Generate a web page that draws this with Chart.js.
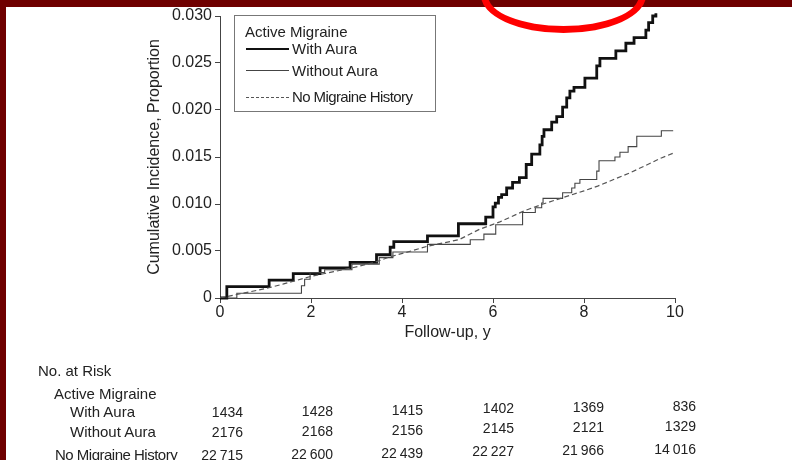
<!DOCTYPE html>
<html>
<head>
<meta charset="utf-8">
<script src="https://cdn.jsdelivr.net/npm/chart.js@4.4.1/dist/chart.umd.min.js"></script>
<style>
  body { margin: 0; width: 792px; height: 460px; overflow: hidden; position: relative; background: #fff; font-family: "Liberation Sans", Arial, sans-serif; color: #222; }
  .band-top { position: absolute; left: 0; top: 0; width: 792px; height: 7px; background: #6f0000; }
  .band-left { position: absolute; left: 0; top: 0; width: 6px; height: 460px; background: #6f0000; }
  #wrap { position: absolute; left: 0; top: 0; width: 792px; height: 460px; }
  .legend { position: absolute; left: 234px; top: 15px; width: 200px; height: 95px; border: 1px solid #777; }
  .legend .t { position: absolute; font-size: 15px; line-height: 18px; white-space: nowrap; }
  .legend .s { position: absolute; left: 11px; width: 43px; height: 0; }
  .risk { position: absolute; font-size: 15px; line-height: 18px; white-space: nowrap; }
  .num { position: absolute; font-size: 14px; line-height: 18px; text-align: right; width: 60px; }
  .ring { position: absolute; left: 481px; top: -42px; width: 151px; height: 61px; border: 7px solid #ff0000; border-radius: 50%; }
</style>
</head>
<body>
<div class="band-top"></div>
<div class="band-left"></div>
<div id="wrap"><canvas id="km"></canvas></div>

<div class="legend">
  <div class="t" style="left:10px; top:7px;">Active Migraine</div>
  <div class="s" style="top:32px; border-top:2.5px solid #111;"></div>
  <div class="t" style="left:57px; top:24px;">With Aura</div>
  <div class="s" style="top:54px; border-top:1px solid #444;"></div>
  <div class="t" style="left:57px; top:46px;">Without Aura</div>
  <div class="s" style="top:81px; border-top:1px dashed #555;"></div>
  <div class="t" style="left:57px; top:72px; letter-spacing:-0.6px;">No Migraine History</div>
</div>

<div id="riskTable"></div>
<div class="ring"></div>

<script>
// follow-up time (years) at which each step happens, and cumulative incidence after it
const withAuraTimes = [0, 0.15, 1.08, 1.61, 2.2, 2.86, 3.44, 3.74, 3.82, 4.56, 5.24, 5.84, 6.0, 6.05, 6.12, 6.19, 6.30, 6.43, 6.58, 6.73, 6.85, 7.03, 7.08, 7.12, 7.29, 7.40, 7.53, 7.62, 7.69, 7.78, 8.02, 8.28, 8.35, 8.70, 8.92, 9.10, 9.36, 9.42, 9.51, 9.58];
const withAuraRisk = [0, 0.0012, 0.0019, 0.0026, 0.0032, 0.0038, 0.0046, 0.0054, 0.0060, 0.0066, 0.0079, 0.0086, 0.0097, 0.0101, 0.0107, 0.0110, 0.0117, 0.0123, 0.0128, 0.0142, 0.0153, 0.0163, 0.0172, 0.0179, 0.0187, 0.0193, 0.0203, 0.0213, 0.0220, 0.0224, 0.0234, 0.0247, 0.0255, 0.0263, 0.0271, 0.0277, 0.0285, 0.0293, 0.0300, 0.0303];

const withoutAuraTimes = [0, 0.37, 1.79, 1.86, 1.98, 2.3, 2.9, 3.5, 3.8, 4.56, 5.5, 5.8, 6.06, 6.65, 6.93, 7.07, 7.10, 7.53, 7.73, 7.80, 7.91, 8.28, 8.33, 8.68, 8.79, 8.97, 9.16, 9.70, 9.96];
const withoutAuraRisk = [0, 0.0005, 0.0013, 0.0020, 0.0027, 0.0030, 0.0036, 0.0043, 0.0049, 0.0057, 0.0062, 0.0068, 0.0078, 0.0091, 0.0096, 0.0101, 0.0106, 0.0112, 0.0117, 0.0122, 0.0126, 0.0135, 0.0146, 0.0150, 0.0155, 0.0161, 0.0172, 0.0178, 0.0178];

const noHistoryTimes = [0, 0.5, 1.0, 1.4, 2.0, 2.5, 2.9, 3.4, 3.75, 4.2, 4.55, 5.25, 5.7, 6.15, 6.7, 7.1, 7.55, 8.0, 8.3, 8.6, 9.0, 9.4, 9.7, 9.96];
const noHistoryRisk = [0, 0.0005, 0.0010, 0.0015, 0.0023, 0.0028, 0.0032, 0.0038, 0.0044, 0.0050, 0.0055, 0.0062, 0.0073, 0.0081, 0.0093, 0.0100, 0.0107, 0.0114, 0.0119, 0.0125, 0.0133, 0.0142, 0.0149, 0.0154];

const yTicks = [0, 0.005, 0.010, 0.015, 0.020, 0.025, 0.030];
const xTicks = [0, 2, 4, 6, 8, 10];

const riskWithAura = [1434, 1428, 1415, 1402, 1369, 836];
const riskWithoutAura = [2176, 2168, 2156, 2145, 2121, 1329];
const riskNoHistory = ["22\u2009715", "22\u2009600", "22\u2009439", "22\u2009227", "21\u2009966", "14\u2009016"];

function toPoints(times, values) {
  return times.map((t, i) => ({ x: t, y: values[i] }));
}

renderRiskTable();
drawChart();

function renderRiskTable() {
  const labels = [
    ["No. at Risk", 38, 362],
    ["Active Migraine", 54, 385],
    ["With Aura", 70, 403],
    ["Without Aura", 70, 423],
    ["No Migraine History", 55, 446],
  ];
  const rightEdges = [243, 333, 423, 514, 604, 696];
  const rows = [[riskWithAura, 403], [riskWithoutAura, 423], [riskNoHistory, 446]];

  let html = labels
    .map(([text, x, y]) => `<div class="risk" style="left:${x}px; top:${y}px;${text.startsWith("No M") ? " letter-spacing:-0.5px;" : ""}">${text}</div>`)
    .join("");
  rows.forEach(([values, y]) => {
    html += values
      .map((v, i) => `<div class="num" style="left:${rightEdges[i] - 60}px; top:${y - i * 1.2}px;">${v}</div>`)
      .join("");
  });
  document.getElementById("riskTable").innerHTML = html;
}

function drawChart() {
  const font = { family: "'Liberation Sans', Arial, sans-serif", size: 16 };
  new Chart(document.getElementById("km"), {
    type: "line",
    data: {
      datasets: [
        { data: toPoints(noHistoryTimes, noHistoryRisk), borderColor: "#555", borderWidth: 1.2, borderDash: [5, 3], pointRadius: 0, tension: 0 },
        { data: toPoints(withoutAuraTimes, withoutAuraRisk), borderColor: "#444", borderWidth: 1.1, stepped: "before", pointRadius: 0 },
        { data: toPoints(withAuraTimes, withAuraRisk), borderColor: "#111", borderWidth: 2.8, stepped: "before", pointRadius: 0, clip: { left: 2, top: 8, right: 5, bottom: 2 } },
      ],
    },
    options: {
      responsive: true,
      maintainAspectRatio: false,
      animation: false,
      devicePixelRatio: 1,
      layout: { padding: { left: 145, top: 16, right: 117, bottom: 117 } },
      plugins: { legend: { display: false }, tooltip: { enabled: false } },
      scales: {
        x: {
          type: "linear",
          min: 0,
          max: 10,
          afterFit: (s) => { s.height = 45; },
          afterBuildTicks: (s) => { s.ticks = xTicks.map((v) => ({ value: v })); },
          ticks: { color: "#222", font, padding: 0, maxRotation: 0 },
          grid: { drawOnChartArea: false, tickLength: 5, color: "#444" },
          border: { color: "#444", width: 1 },
          title: { display: true, text: "Follow-up, y", color: "#222", font, padding: { top: 0, bottom: 1 } },
        },
        y: {
          min: 0,
          max: 0.03,
          afterFit: (s) => { s.width = 75; },
          afterBuildTicks: (s) => { s.ticks = yTicks.map((v) => ({ value: v })); },
          ticks: { color: "#222", font, padding: 3, callback: (v) => (v === 0 ? "0" : v.toFixed(3)) },
          grid: { drawOnChartArea: false, tickLength: 5, color: "#444" },
          border: { color: "#444", width: 1 },
          title: { display: true, text: "Cumulative Incidence, Proportion", color: "#222", font, padding: { top: 0, bottom: 0 } },
        },
      },
    },
  });
}
</script>
</body>
</html>
